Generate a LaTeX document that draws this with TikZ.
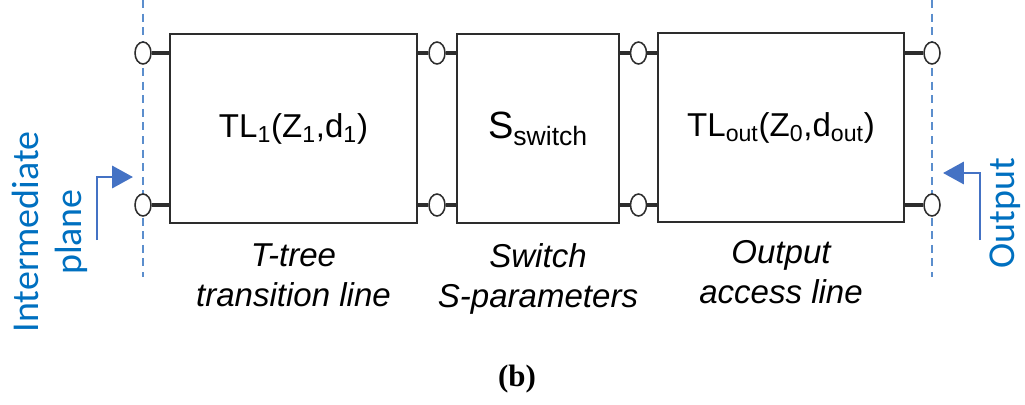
\documentclass[tikz,border=0pt]{standalone}
\usepackage{fontspec}
\setmainfont{Liberation Sans}
\newfontfamily\planefont{Carlito}
\newfontfamily\subfigfont{Liberation Serif}
\usepackage{tikz}
\usetikzlibrary{arrows.meta, positioning, shapes.geometric}
\definecolor{planeblue}{RGB}{0,112,192}
\definecolor{arrowblue}{RGB}{68,114,196}
\definecolor{dashblue}{RGB}{91,142,205}
\definecolor{portgray}{RGB}{45,45,45}

\begin{document}
\begin{tikzpicture}[x=0.025cm,y=-0.025cm,
  block/.style={draw=portgray,line width=1.4pt,minimum height=4.7cm,inner sep=0pt,
                font=\fontsize{23.5}{28}\selectfont},
  port/.style={draw=portgray,fill=white,ellipse,line width=1.1pt,inner sep=0pt,
               minimum width=0.4cm,minimum height=0.55cm},
  wire/.style={draw=portgray,line width=2.5pt},
  caption/.style={font=\fontsize{23.5}{28.5}\selectfont\itshape,align=center,inner sep=0pt},
  plane/.style={draw=dashblue,line width=1.1pt,dash pattern=on 0.2cm off 0.14cm},
  planearr/.style={-{Triangle[length=0.52cm,width=0.55cm]},draw=arrowblue,line width=2.1pt},
  planetext/.style={font=\planefont\fontsize{27}{31}\selectfont,text=planeblue,align=center,rotate=90}
]
\useasboundingbox (0,0) rectangle (1025,404);

% Reference planes
\coordinate (inTop) at (143,0);
\coordinate (inBot) at (143,277);
\coordinate (outTop) at (932,0);
\coordinate (outBot) at (932,277);
\draw[plane] (inTop) -- (inBot);
\draw[plane] (outTop) -- (outBot);

% Blocks
\node[block,minimum width=6.175cm] (tl1) at (293.5,128.5)
  {TL\textsubscript{1}(Z\textsubscript{1},d\textsubscript{1})};
\node[block,minimum width=4.05cm,font=\fontsize{27}{32}\selectfont] (sw) at (538,128.5)
  {S\textsubscript{switch}};
\node[block,minimum width=6.15cm] (tlout) at (781,127.5)
  {TL\textsubscript{out}(Z\textsubscript{0},d\textsubscript{out})};

% Ports
\foreach \name/\x/\y in {pi1/143/53, pi2/143/205, pa1/437/53, pa2/437/205,
                         pb1/638.5/53, pb2/638.5/205, po1/932/53, po2/932/205} {
  \node[port] (\name) at (\x,\y) {};
}

% Port wires
\foreach \k in {1,2} {
  \draw[wire] (pi\k.east) -- (tl1.west |- pi\k);
  \draw[wire] (tl1.east |- pa\k) -- (pa\k.west);
  \draw[wire] (pa\k.east) -- (sw.west |- pa\k);
  \draw[wire] (sw.east |- pb\k) -- (pb\k.west);
  \draw[wire] (pb\k.east) -- (tlout.west |- pb\k);
  \draw[wire] (tlout.east |- po\k) -- (po\k.west);
}

% Plane arrows
\coordinate (inFoot) at (97,240);
\coordinate (inTip) at (133,177);
\draw[planearr] (inFoot) |- (inTip);
\coordinate (outFoot) at (980,240);
\coordinate (outTip) at (943,173);
\draw[planearr] (outFoot) |- (outTip);

\node[planetext] (intxt) at (50,232) {Intermediate\\plane};
\node[planetext] (outtxt) at (1005,213) {Output};

% Captions
\node[caption,below=0.5cm of tl1] (cap1) {T-tree\\transition line};
\node[caption,below=0.5cm of sw] (cap2) {Switch\\S-parameters};
\node[caption,below=0.45cm of tlout] (cap3) {Output\\access line};

\node[font=\subfigfont\bfseries\fontsize{22}{26}\selectfont] (sublbl) at (517,379) {(b)};

\end{tikzpicture}
\end{document}
